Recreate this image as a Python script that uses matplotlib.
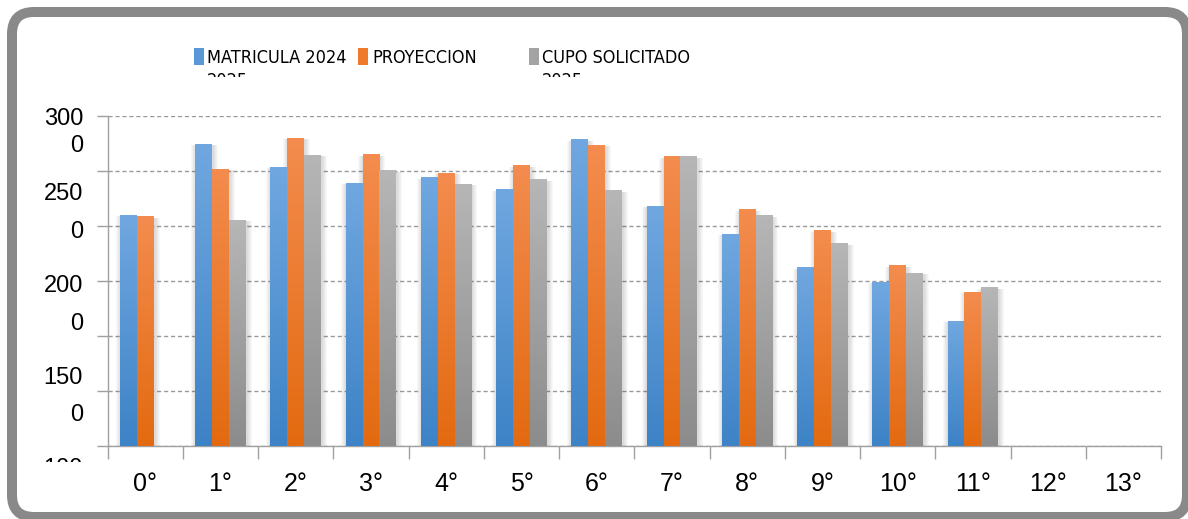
import matplotlib
matplotlib.use('Agg')
import matplotlib.pyplot as plt
import numpy as np
from matplotlib.patches import Rectangle, FancyBboxPatch
from matplotlib.transforms import IdentityTransform, Bbox
from matplotlib.colors import to_rgb
from matplotlib import font_manager as fm

# ---------------- data ----------------
categories = ['0°', '1°', '2°', '3°', '4°', '5°', '6°', '7°', '8°', '9°', '10°', '11°', '12°', '13°']
matricula_2024 = [2550, 2873, 2768, 2697, 2721, 2667, 2895, 2591, 2465, 2313, 2245, 2069, np.nan, np.nan]
proyeccion = [2544, 2760, 2900, 2827, 2741, 2777, 2869, 2818, 2576, 2481, 2322, 2201, np.nan, np.nan]
cupo_solicitado = [np.nan, 2527, 2824, 2753, 2691, 2712, 2663, 2818, 2548, 2421, 2287, 2222, np.nan, np.nan]
series_names = ['MATRICULA 2024', 'PROYECCION', 'CUPO SOLICITADO']
series_second_line = ['2025', '', '2025']
y_tick_labels = ['3000', '2500', '2000', '1500', '1000']
y_min, y_max, y_step = 1500, 3000, 250

FONT = ['Liberation Sans', 'DejaVu Sans']
plt.rcParams['font.family'] = FONT

# look for a condensed / narrow face for the squeezed legend text
legend_fp = None
for f in fm.fontManager.ttflist:
    nm = f.name.lower()
    st = str(f.stretch).lower()
    fn = f.fname.lower()
    if f.style != 'normal' or f.weight not in (400, 'normal', 'regular'):
        continue
    if 'bold' in fn or 'italic' in fn or 'oblique' in fn:
        continue
    if 'narrow' in nm or 'condensed' in nm or 'condensed' in st or 'narrow' in fn or 'condensed' in fn:
        if 'mono' in nm or ('serif' in nm and 'sans' not in nm):
            continue
        if 'cjk' in nm:
            continue
        legend_fp = fm.FontProperties(fname=f.fname)
        break
if legend_fp is None:
    legend_fp = fm.FontProperties(family=FONT)

W, H = 1188, 519
fig = plt.figure(figsize=(W / 100, H / 100), dpi=100)
fig.patch.set_facecolor('white')

ax_left, ax_right, ax_top, ax_bot = 107.7, 1161.0, 116.0, 445.7
ax = fig.add_axes([ax_left / W, (H - ax_bot) / H, (ax_right - ax_left) / W, (ax_bot - ax_top) / H])
ax.set_facecolor('none')

colors = [('#70a7e0', '#3d83c6'), ('#f38c4e', '#e36a10'), ('#b6b6b6', '#8c8c8c')]
legend_colors = ['#5a97d6', '#ef7a2c', '#a3a3a3']
all_series = [matricula_2024, proyeccion, cupo_solicitado]

x = np.arange(len(categories))
bw = 0.225
px_x = 1.0 / 75.3
px_y = (y_max - y_min) / (ax_bot - ax_top)


def grad_img(top, bottom, n=64):
    t = np.linspace(0, 1, n)[:, None]
    c0 = np.array(to_rgb(bottom))
    c1 = np.array(to_rgb(top))
    img = c0 + (c1 - c0) * t
    return img[:, None, :]


all_bars = []
for i, (vals, (ctop, cbot)) in enumerate(zip(all_series, colors)):
    bars = ax.bar(x + (i - 1) * bw, vals, width=bw, color=cbot, zorder=3,
                  linewidth=0, label=series_names[i])
    all_bars.append((bars, ctop, cbot))

# soft shadows
for bars, ctop, cbot in all_bars:
    for r in bars:
        h = r.get_height()
        if not np.isfinite(h):
            continue
        x0, w = r.get_x(), r.get_width()
        for k in range(1, 6):
            ax.add_patch(Rectangle((x0 - k * px_x + 0.8 * px_x, y_min - k * px_y),
                                   w + 2 * k * px_x, (h - y_min) + k * px_y - 1.5 * px_y,
                                   facecolor='black', edgecolor='none', alpha=0.028, zorder=2))

# gradients on bars
for bars, ctop, cbot in all_bars:
    img = grad_img(ctop, cbot)
    for r in bars:
        h = r.get_height()
        if not np.isfinite(h):
            continue
        x0, w = r.get_x(), r.get_width()
        im = ax.imshow(img, extent=[x0, x0 + w, y_min, h], origin='lower', aspect='auto',
                       zorder=3.5, interpolation='bilinear')
        im.set_clip_path(r)

ax.set_xlim(-0.5, len(categories) - 0.5)
ax.set_ylim(y_min, y_max)
ax.set_aspect('auto')

ax.set_yticks(np.arange(y_min, y_max + 1, y_step))
ax.yaxis.grid(True, linestyle=(0, (3, 2)), color='#9a9a9a', linewidth=1.0, zorder=1)
ax.set_axisbelow(True)
ax.tick_params(axis='y', which='major', direction='out', length=8, color='#a0a0a0',
               width=1, labelleft=False)

ax.set_xticks(x)
ax.set_xticklabels(categories, fontsize=18)
ax.set_xticks(np.arange(-0.5, len(categories), 1.0), minor=True)
ax.tick_params(axis='x', which='major', length=0, pad=19)
ax.tick_params(axis='x', which='minor', direction='out', length=9, color='#a0a0a0', width=1)

for s in ['top', 'right']:
    ax.spines[s].set_visible(False)
for s in ['left', 'bottom']:
    ax.spines[s].set_color('#a0a0a0')
    ax.spines[s].set_linewidth(1.0)

# ------- wrapped y labels, as in the original -------
label_baselines = [(125.2, 151.5), (200.2, 238.5), (291.5, 330.2), (384.5, 421.2), (475.0, 512.0)]
ylab_clip = Bbox.from_extents(0, H - 462, W, H)
for lab, (b1, b2) in zip(y_tick_labels, label_baselines):
    for txt, b in ((lab[:3], b1), (lab[3:], b2)):
        t = fig.text(83 / W, (H - b) / H, txt, fontsize=17, ha='right', va='baseline', color='black')
        t.set_clip_box(ylab_clip)
        t.set_clip_on(True)

# ------- legend (manual, following the original layout) -------
renderer = fig.canvas.get_renderer()
probe = fig.text(0, 0, series_names[0], fontproperties=legend_fp, fontsize=18)
wpx = probe.get_window_extent(renderer).width
probe.remove()
leg_fs = min(18.0, 18.0 * 140.0 / wpx)

leg_sq_x = [194, 358, 529]
leg_txt_x = [207, 372, 542]
leg_clip = Bbox.from_extents(0, H - 77, W, H)
cap = leg_fs * 100 / 72 * 0.72
base1 = 56.5 + cap / 2
for i in range(3):
    fig.add_artist(Rectangle((leg_sq_x[i], H - 65), 10, 17, transform=IdentityTransform(),
                             facecolor=legend_colors[i], edgecolor='none'))
    fig.text(leg_txt_x[i] / W, (H - base1) / H, series_names[i], fontproperties=legend_fp,
             fontsize=leg_fs, ha='left', va='baseline', color='black')
    if series_second_line[i]:
        t2 = fig.text(leg_txt_x[i] / W, (H - (72.7 + cap)) / H, series_second_line[i],
                      fontproperties=legend_fp, fontsize=leg_fs, ha='left', va='baseline',
                      color='black')
        t2.set_clip_box(leg_clip)
        t2.set_clip_on(True)

# ------- rounded chart frame -------
frame = FancyBboxPatch((12, 2), 1175, 505, boxstyle='round,pad=0,rounding_size=22',
                       transform=IdentityTransform(), fill=False, edgecolor='#898989',
                       linewidth=7.2)
fig.add_artist(frame)

fig.savefig('out.png', dpi=100)
